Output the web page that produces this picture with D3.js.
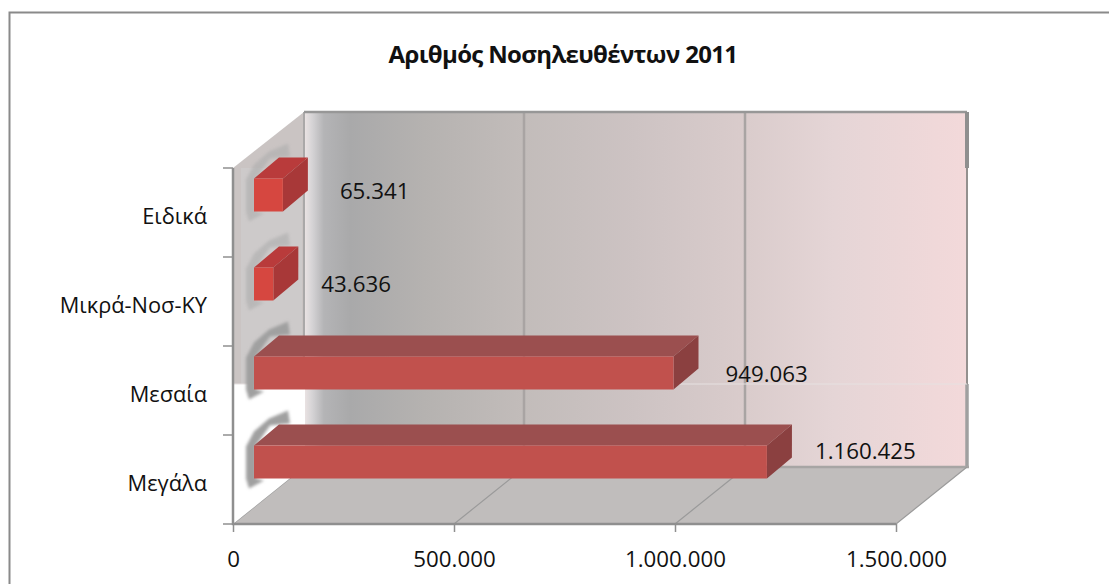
<!DOCTYPE html>
<html>
<head>
<meta charset="utf-8">
<script src="https://cdn.jsdelivr.net/npm/d3@7/dist/d3.min.js"></script>
<style>
html,body{margin:0;padding:0;background:#fff;overflow:hidden}
svg{display:block}
text{font-family:"Open Sans","Noto Sans",sans-serif;fill:#111}
</style>
</head>
<body>
<svg id="c" width="1109" height="584"></svg>
<script>
const titleText = "Αριθμός Νοσηλευθέντων 2011";
const categories = ["Μεγάλα", "Μεσαία", "Μικρά-Νοσ-ΚΥ", "Ειδικά"];
const values = [1160425, 949063, 43636, 65341];
const valueTicks = [0, 500000, 1000000, 1500000];

// layout
const W = 1109, H = 584;
const x0 = 233, x1 = 896, yBottom = 524, yTop = 168;
const depthX = 71, depthY = 57, wallTop = 112, seamY = 384;
const barStart = 21, barDX = 25, barDY = 21;
const labelNudge = [[48, -21], [52, -9], [48, -9.5], [57, -13.5]];

const svg = d3.select("#c");
const defs = svg.append("defs");
const x = d3.scaleLinear().domain([0, 1500000]).range([x0, x1]);
const y = d3.scaleBand().domain(categories).range([yBottom, yTop]);
const loc = d3.formatLocale({decimal: ",", thousands: ".", grouping: [3], currency: ["", ""]});
const fmt = loc.format(",d");
const poly = pts => pts.map(p => p.join(",")).join(" ");

const wallGrad = defs.append("linearGradient").attr("id", "wall")
  .attr("gradientUnits", "userSpaceOnUse").attr("x1", x0 + depthX).attr("x2", x1 + depthX).attr("y1", 0).attr("y2", 0);
[[0, "#ece4e4"], [.012, "#d6d4d6"], [.03, "#b4b4b6"], [.07, "#a9a9aa"], [.18, "#b5b2b0"], [.33, "#c2bcba"],
 [.5, "#cdc3c3"], [.67, "#dacccc"], [.8, "#e5d5d6"], [1, "#f3d9da"]]
  .forEach(s => wallGrad.append("stop").attr("offset", s[0]).attr("stop-color", s[1]));

defs.append("filter").attr("id", "soft").attr("x", "-5%").attr("y", "-5%").attr("width", "110%").attr("height", "110%")
  .append("feGaussianBlur").attr("stdDeviation", .6);
defs.append("filter").attr("id", "shadow").attr("x", "-40%").attr("y", "-40%").attr("width", "180%").attr("height", "180%")
  .append("feGaussianBlur").attr("stdDeviation", 1.6);
defs.append("clipPath").attr("id", "leftClip").append("rect").attr("x", x0 + 2).attr("y", 100).attr("width", 80).attr("height", 424);

// frame: open on right and bottom
svg.append("path").attr("d", `M9.5,${H}V12.5H${W}`).attr("fill", "none").attr("stroke", "#8a8a8a").attr("stroke-width", 2);

svg.append("text").attr("x", 563).attr("y", 63).attr("text-anchor", "middle")
  .attr("font-size", 24).attr("font-weight", 700).attr("letter-spacing", -.65).text(titleText);

const g = svg.append("g").attr("filter", "url(#soft)");

// walls
g.append("polygon").attr("points", poly([[x0, yTop], [x0 + depthX, wallTop], [x0 + depthX, seamY], [x0, seamY]])).attr("fill", "#cac4c3");
g.append("rect").attr("x", x0 + 8).attr("y", yTop).attr("width", depthX - 10).attr("height", seamY - yTop).attr("fill", "#d0cfd1").attr("opacity", .5);
g.append("rect").attr("x", x0 + depthX).attr("y", wallTop).attr("width", x1 - x0).attr("height", yBottom - depthY - wallTop).attr("fill", "url(#wall)");

// back-wall gridlines
g.append("g").selectAll("line").data(valueTicks.slice(1, 3)).join("line")
  .attr("x1", d => x(d) + depthX - 1).attr("x2", d => x(d) + depthX - 1)
  .attr("y1", wallTop).attr("y2", yBottom - depthY)
  .attr("stroke", "#a9a4a3").attr("stroke-width", 2.5);
g.append("line").attr("x1", x0 + depthX).attr("x2", x0 + depthX).attr("y1", wallTop).attr("y2", seamY).attr("stroke", "#aaa8a8").attr("stroke-width", 2);
g.append("line").attr("x1", x0 + depthX).attr("x2", x1 + depthX).attr("y1", wallTop).attr("y2", wallTop).attr("stroke", "#979797").attr("stroke-width", 2.5);
g.append("line").attr("x1", x1 + depthX).attr("x2", x1 + depthX).attr("y1", wallTop).attr("y2", yTop).attr("stroke", "#8f8f8f").attr("stroke-width", 4);
g.append("line").attr("x1", x1 + depthX).attr("x2", x1 + depthX).attr("y1", yTop).attr("y2", seamY).attr("stroke", "#93908e").attr("stroke-width", 2);
g.append("line").attr("x1", x1 + depthX).attr("x2", x1 + depthX).attr("y1", seamY).attr("y2", yBottom - depthY).attr("stroke", "#a0a0a0").attr("stroke-width", 3.5);

// floor
g.append("polygon").attr("points", poly([[x0, yBottom], [x1, yBottom], [x1 + depthX, yBottom - depthY], [x0 + depthX, yBottom - depthY]])).attr("fill", "#c0bdbc");
g.append("line").attr("x1", x0 + depthX).attr("x2", x1 + depthX + 2).attr("y1", yBottom - depthY).attr("y2", yBottom - depthY).attr("stroke", "#a7a5a4").attr("stroke-width", 2.5);
g.append("g").selectAll("line").data(valueTicks).join("line")
  .attr("x1", d => x(d)).attr("y1", yBottom)
  .attr("x2", d => x(d) + depthX).attr("y2", yBottom - depthY)
  .attr("stroke", "#9a9a9a").attr("stroke-width", 1.2);
// the white wedge below the side-wall seam
g.append("polygon").attr("points", poly([[x0, seamY], [x0 + depthX, seamY], [x0 + depthX, yBottom - depthY], [x0, yBottom]])).attr("fill", "#fff");
g.append("line").attr("x1", x0).attr("x2", x1 + depthX).attr("y1", seamY).attr("y2", seamY).attr("stroke", "#e6e1e1").attr("stroke-width", 1);
g.append("line").attr("x1", x0 + depthX).attr("x2", x0 + depthX).attr("y1", seamY).attr("y2", yBottom - depthY).attr("stroke", "#fff").attr("stroke-width", 2);

// bar geometry from scales
const rows = categories.map((c, i) => {
  const mid = y(c) + y.bandwidth() / 2;
  const right = x(values[i]) + barStart, left = x(0) + barStart;
  return {c, v: values[i], i, left, right, top: mid - 34, bottom: mid - 1, small: right - left < 60};
});

// bar shadows on the side wall
g.append("g").attr("clip-path", "url(#leftClip)").selectAll("polygon").data(rows).join("polygon")
  .attr("points", d => {
    const h = d.bottom - d.top;
    return poly([[-8, 24], [-8, 1], [0, -14], [15, -27], [34, -35], [36, -22], [16, -20], [2, 0], [2, h], [10, h + 2], [-5, h + 10], [-8, h]]
      .map(p => [d.left + p[0], d.top + p[1]]));
  })
  .attr("fill", d => d.small ? "#adadad" : "#a0a0a0")
  .attr("opacity", d => d.small ? .6 : 1)
  .attr("filter", "url(#shadow)");

// bars
const bars = g.append("g").selectAll("g").data(rows).join("g");
bars.append("polygon").attr("fill", d => d.small ? "#b93b3a" : "#9b4f4f")
  .attr("points", d => poly([[d.left, d.top], [d.left + barDX, d.top - barDY], [d.right + barDX, d.top - barDY], [d.right, d.top]]));
bars.append("polygon").attr("fill", d => d.small ? "#a83838" : "#8b3f3f")
  .attr("points", d => poly([[d.right, d.top], [d.right + barDX, d.top - barDY], [d.right + barDX, d.bottom - barDY], [d.right, d.bottom]]));
bars.append("rect").attr("fill", d => d.small ? "#d6473f" : "#c1514e")
  .attr("x", d => d.left).attr("y", d => d.top)
  .attr("width", d => d.right - d.left).attr("height", d => d.bottom - d.top);

// axes
const axisColor = "#8f8f8f";
const axisG = g.append("g");
axisG.append("path").attr("d", `M${x0},${yTop}V${yBottom}H${x1}`).attr("fill", "none").attr("stroke", axisColor).attr("stroke-width", 2.5);
axisG.selectAll(".yt").data(d3.range(categories.length + 1)).join("line")
  .attr("x1", x0 - 10).attr("x2", x0)
  .attr("y1", i => i < categories.length ? y(categories[i]) + y.bandwidth() : yTop)
  .attr("y2", i => i < categories.length ? y(categories[i]) + y.bandwidth() : yTop)
  .attr("stroke", axisColor).attr("stroke-width", 1.5);

const xAxis = d3.axisBottom(x).tickValues(valueTicks).tickFormat(d => fmt(d)).tickSize(8).tickPadding(19);
const ax = svg.append("g").attr("transform", `translate(0,${yBottom})`).call(xAxis);
ax.select(".domain").remove();
ax.selectAll("line").attr("stroke", axisColor).attr("stroke-width", 1.5);
ax.selectAll("text").attr("font-size", 22.3).attr("fill", "#111");

const yAxis = d3.axisLeft(y).tickSize(0).tickPadding(x0 - 207);
const ay = svg.append("g").attr("transform", `translate(${x0},0)`).call(yAxis);
ay.select(".domain").remove();
ay.selectAll("text").attr("fill", "#111").attr("dy", 11).attr("font-size", 21.8);

// value labels
svg.append("g").selectAll("text").data(rows).join("text")
  .attr("x", d => d.right + labelNudge[d.i][0])
  .attr("y", d => y(d.c) + y.bandwidth() / 2 + labelNudge[d.i][1])
  .attr("font-size", 22.3)
  .text(d => fmt(d.v));
</script>
</body>
</html>
